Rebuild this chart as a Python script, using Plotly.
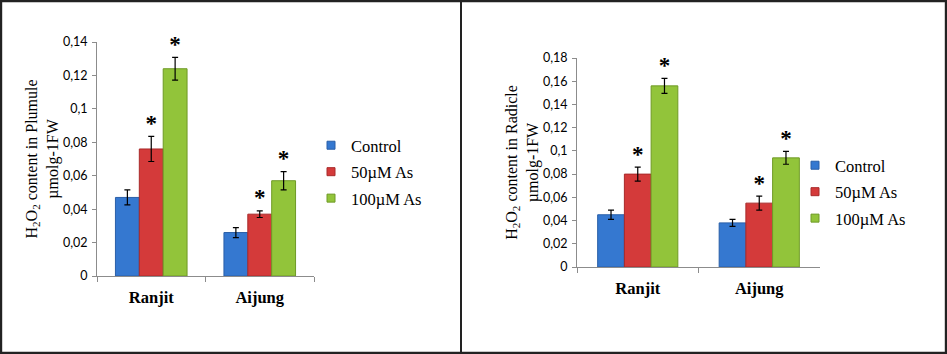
import plotly.graph_objects as go

categories = ["Ranjit", "Aijung"]
series_names = ["Control", "50µM As", "100µM As"]
colors = ["#3578d0", "#d43a3a", "#92c43a"]
line_colors = ["#2a5fa8", "#a82a2a", "#6f9a26"]

# Plumule (left panel)
plumule_vals = [[0.047, 0.026], [0.076, 0.037], [0.124, 0.057]]
plumule_err = [[0.0045, 0.003], [0.0075, 0.002], [0.0068, 0.0055]]
plumule_sig = [["", ""], ["*", "*"], ["*", "*"]]

# Radicle (right panel)
radicle_vals = [[0.045, 0.038], [0.080, 0.055], [0.156, 0.094]]
radicle_err = [[0.004, 0.003], [0.006, 0.006], [0.0065, 0.0055]]
radicle_sig = [["", ""], ["*", "*"], ["*", "*"]]

W, H = 947, 354
fig = go.Figure()

serif = "Liberation Serif"
sans = "Lato"

panels = [
    ("x", "y", "legend", plumule_vals, plumule_err, plumule_sig),
    ("x2", "y2", "legend2", radicle_vals, radicle_err, radicle_sig),
]
for xa, ya, lg, vals, errs, sigs in panels:
    for i, name in enumerate(series_names):
        fig.add_trace(go.Bar(
            x=categories, y=vals[i], name=name, xaxis=xa, yaxis=ya,
            marker=dict(color=colors[i], line=dict(color=line_colors[i], width=1)),
            error_y=dict(type="data", array=errs[i], color="black", thickness=1.2, width=3),
            showlegend=False, offsetgroup=str(i),
        ))
    for i, name in enumerate(series_names):
        fig.add_trace(go.Scatter(
            x=categories, y=[v + e for v, e in zip(vals[i], errs[i])],
            text=[f"<sup>{s}</sup>" if s else "" for s in sigs[i]],
            mode="text", textposition="middle center",
            textfont=dict(family=serif, size=33, color="black", weight="bold"),
            xaxis=xa, yaxis=ya, showlegend=False, hoverinfo="skip",
            offsetgroup=str(i), cliponaxis=False,
        ))
    # legend entries with small square swatches
    for i, name in enumerate(series_names):
        fig.add_trace(go.Scatter(
            x=[None], y=[None], mode="markers", name=name, xaxis=xa, yaxis=ya,
            marker=dict(symbol="square", size=8, color=colors[i],
                        line=dict(color=line_colors[i], width=1)),
            legend=lg, legendgroup=lg + name,
        ))

axis_common = dict(showline=True, linecolor="#8c8c8c", linewidth=1, showgrid=False,
                   zeroline=False, ticks="outside", tickcolor="#8c8c8c", automargin=False)
xaxis_common = dict(axis_common, tickson="boundaries", ticklen=5,
                    tickfont=dict(family=serif, size=16.5, color="black", weight="bold"),
                    ticklabelstandoff=6)
ytitle_font = dict(family=serif, size=16, color="black")
ytick_font = dict(family=sans, size=12.5, color="black")

fig.update_layout(
    width=W, height=H, margin=dict(l=0, r=0, t=0, b=0, pad=0, autoexpand=False),
    paper_bgcolor="white", plot_bgcolor="white",
    separators=", ",
    barmode="group", bargap=0.34, bargroupgap=0,
    scattermode="group", scattergap=0.34,
    xaxis=dict(xaxis_common, domain=[97 / W, 314 / W], anchor="y"),
    yaxis=dict(axis_common, domain=[1 - 276 / H, 1 - 42 / H], range=[0, 0.14], dtick=0.02,
               ticklen=4, tickfont=ytick_font, anchor="x", ticklabelstandoff=2,
               title=dict(text="H<sub>2</sub>O<sub>2</sub> content in Plumule<br>µmolg-1FW",
                          font=ytitle_font, standoff=0)),
    xaxis2=dict(xaxis_common, domain=[577 / W, 820 / W], anchor="y2"),
    yaxis2=dict(axis_common, domain=[1 - 267 / H, 1 - 58 / H], range=[0, 0.18], dtick=0.02,
                ticklen=4, tickfont=ytick_font, anchor="x2", ticklabelstandoff=2,
                title=dict(text="H<sub>2</sub>O<sub>2</sub> content in Radicle<br>µmolg-1FW",
                           font=ytitle_font, standoff=0)),
    legend=dict(x=311 / W, y=1 - 128 / H, xanchor="left", yanchor="top",
                font=dict(family=serif, size=16.5, color="black"),
                tracegroupgap=2, itemwidth=30, itemsizing="trace", bgcolor="rgba(0,0,0,0)"),
    legend2=dict(x=795 / W, y=1 - 148 / H, xanchor="left", yanchor="top",
                 font=dict(family=serif, size=16.5, color="black"),
                 tracegroupgap=2, itemwidth=30, itemsizing="trace", bgcolor="rgba(0,0,0,0)"),
    shapes=[
        dict(type="rect", xref="paper", yref="paper", x0=0.001, x1=0.999, y0=0.003, y1=0.997,
             line=dict(color="#222222", width=2.5)),
        dict(type="line", xref="paper", yref="paper", x0=461 / W, x1=461 / W, y0=0, y1=1,
             line=dict(color="#222222", width=2)),
    ],
)

post = ("document.documentElement.style.margin='0';document.body.style.margin='0';"
        "document.body.style.overflow='hidden';document.documentElement.style.overflow='hidden';"
        "var d=document.querySelector('.plotly-graph-div');"
        "d.style.position='fixed';d.style.top='0px';d.style.left='0px';")
fig.write_html("out.html", config={"displayModeBar": False}, post_script=post)
